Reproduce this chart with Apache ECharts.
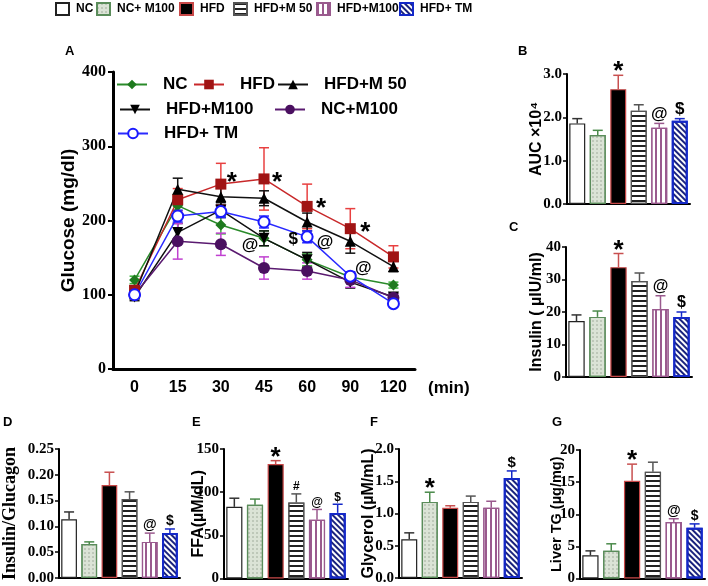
<!DOCTYPE html>
<html>
<head>
<meta charset="utf-8">
<script src="https://cdn.jsdelivr.net/npm/echarts@6/dist/echarts.min.js"></script>
<style>
  html, body { margin: 0; padding: 0; background: #fff; }
  #chart { width: 708px; height: 586px; }
</style>
</head>
<body>
<div id="chart"></div>
<script>
// groups used by the bar panels (B–G)
const groups = ['NC', 'NC+ M100', 'HFD', 'HFD+M 50', 'HFD+M100', 'HFD+ TM'];

// panel A: glucose tolerance test
const timePoints = ['0', '15', '30', '45', '60', '90', '120'];
const lineNames = ['NC', 'HFD', 'HFD+M 50', 'HFD+M100', 'NC+M100', 'HFD+ TM'];
const glucoseNC = [120, 220, 194, 176, 147, 124, 113];
const glucoseHFD = [106, 228, 249, 256, 219, 189, 151];
const glucoseM50 = [101, 242, 232, 230, 198, 172, 138];
const glucoseM100 = [97, 184, 214, 176, 147, 117, 97];
const glucoseNCM100 = [100, 172, 168, 136, 132, 120, 96];
const glucoseTM = [100, 206, 212, 198, 178, 125, 88];
const errNC = [5, 15, 12, 10, 8, 6, 4];
const errHFD = [6, 15, 28, 42, 30, 27, 15];
const errM50 = [5, 15, 12, 10, 12, 16, 7];
const errM100 = [5, 12, 10, 10, 10, 8, 5];
const errNCM100 = [4, 24, 15, 15, 11, 10, 5];
const errTM = [3, 8, 8, 8, 8, 6, 4];
const sigATimes = ['30', '45', '60', '90', '45', '60', '60', '90'];
const sigAValues = [259, 259, 224, 191, 167, 174, 171, 136];
const sigAText = ['*', '*', '*', '*', '@', '$', '@', '@'];

// panel B: AUC x10^4
const aucMean = [1.86, 1.59, 2.65, 2.15, 1.76, 1.92];
const aucErr = [0.11, 0.11, 0.32, 0.14, 0.10, 0.05];
const aucSig = ['', '', '*', '', '@', '$'];
// panel C: insulin
const insulinMean = [17.2, 18.5, 33.8, 29.5, 20.9, 18.5];
const insulinErr = [1.9, 1.8, 4.2, 2.5, 4.1, 1.5];
const insulinSig = ['', '', '*', '', '@', '$'];
// panel D: insulin / glucagon
const ratioMean = [0.114, 0.066, 0.180, 0.153, 0.070, 0.087];
const ratioErr = [0.014, 0.004, 0.025, 0.014, 0.017, 0.008];
const ratioSig = ['', '', '', '', '@', '$'];
// panel E: FFA
const ffaMean = [83, 85.5, 132.5, 88, 68, 76];
const ffaErr = [10, 6.5, 4, 10, 12, 10];
const ffaSig = ['', '', '*', '#', '@', '$'];
// panel F: glycerol
const glycerolMean = [0.60, 1.18, 1.09, 1.18, 1.09, 1.55];
const glycerolErr = [0.10, 0.15, 0.03, 0.09, 0.10, 0.11];
const glycerolSig = ['', '*', '', '', '', '$'];
// panel G: liver TG
const liverTgMean = [3.6, 4.3, 15.2, 16.6, 8.8, 7.9];
const liverTgErr = [0.7, 1.1, 2.6, 1.5, 0.5, 0.6];
const liverTgSig = ['', '', '*', '', '@', '$'];

const SANS = '"Liberation Sans", Arial, sans-serif';
const SERIF = '"Liberation Serif", "Times New Roman", serif';

const barStyles = [
  { color: '#ffffff', borderColor: '#222222', borderWidth: 1.2 },
  { color: '#dbe3d6', borderColor: '#5a8c5a', borderWidth: 1.2,
    decal: { symbol: 'circle', symbolSize: 0.7, dashArrayX: [2, 1.5], dashArrayY: [2, 1.5], color: '#8a9a86' } },
  { color: '#000000', borderColor: '#c84848', borderWidth: 1.2 },
  { color: '#ffffff', borderColor: '#555555', borderWidth: 1.2,
    decal: { symbol: 'rect', symbolSize: 1, dashArrayX: [1, 0], dashArrayY: [1.2, 2.2], color: '#222222' } },
  { color: '#ffffff', borderColor: '#9a5a8e', borderWidth: 1.2,
    decal: { symbol: 'rect', symbolSize: 1, dashArrayX: [1.2, 3], dashArrayY: [1, 0], color: '#9a5a8e' } },
  { color: '#ffffff', borderColor: '#1428c8', borderWidth: 2,
    decal: { symbol: 'rect', symbolSize: 1, dashArrayX: [1, 0], dashArrayY: [1.3, 1.6], rotation: Math.PI / 4, color: '#1a237e' } }
];
const barErrColors = ['#333333', '#4a8a4a', '#c85050', '#555555', '#9a5a8e', '#1428c8'];

const lineColors = ['#1e7a1e', '#a01414', '#000000', '#000000', '#4a1060', '#1a1aff'];
const lineStroke = ['#2a8a2a', '#c8282a', '#111111', '#111111', '#5a1a70', '#2a2aff'];
const lineErrColors = ['#3bb33b', '#e84040', '#111111', '#111111', '#c040d0', '#2a2aff'];
const lineSymbols = ['diamond', 'rect', 'triangle', 'triangle', 'circle', 'emptyCircle'];
const lineSymbolRotate = [0, 0, 0, 180, 0, 0];
const lineSymbolSize = [11, 11, 11, 11, 12, 11];
const glucoseSeries = [glucoseNC, glucoseHFD, glucoseM50, glucoseM100, glucoseNCM100, glucoseTM];
const glucoseErr = [errNC, errHFD, errM50, errM100, errNCM100, errTM];

const chart = echarts.init(document.getElementById('chart'));

const grids = [
  { left: 113, top: 72, width: 302, height: 297 },
  { left: 567, top: 74, width: 123, height: 130 },
  { left: 566, top: 247, width: 126, height: 130 },
  { left: 58, top: 449, width: 122, height: 129 },
  { left: 224, top: 449, width: 124, height: 130 },
  { left: 399, top: 449, width: 123, height: 129 },
  { left: 580, top: 450, width: 125, height: 129 }
];

const barPanels = [
  { mean: aucMean, err: aucErr, sig: aucSig, max: 3, interval: 1, dec: 1, name: 'AUC ×10⁴', gap: 22, nameSize: 16, sigSize: 17 },
  { mean: insulinMean, err: insulinErr, sig: insulinSig, max: 40, interval: 10, dec: 0, name: 'Insulin ( µIU/ml)', gap: 21, nameSize: 16, sigSize: 16 },
  { mean: ratioMean, err: ratioErr, sig: ratioSig, max: 0.25, interval: 0.05, dec: 2, name: 'Insulin/Glucagon', gap: 40, nameSize: 18, sigSize: 14, serifName: true },
  { mean: ffaMean, err: ffaErr, sig: ffaSig, max: 150, interval: 50, dec: 0, name: 'FFA(µM/dL)', gap: 17, nameSize: 16, sigSize: 12 },
  { mean: glycerolMean, err: glycerolErr, sig: glycerolSig, max: 2, interval: 0.5, dec: 1, name: 'Glycerol (µM/mL)', gap: 22, nameSize: 16, sigSize: 15 },
  { mean: liverTgMean, err: liverTgErr, sig: liverTgSig, max: 20, interval: 5, dec: 0, name: 'Liver TG (µg/mg)', gap: 16, nameSize: 14.5, sigSize: 14 }
];

const xAxes = [{
  gridIndex: 0, type: 'category', data: timePoints, boundaryGap: true,
  axisLine: { lineStyle: { color: '#000', width: 3 } },
  axisTick: { show: false },
  axisLabel: { color: '#000', fontFamily: SANS, fontWeight: 'bold', fontSize: 16, margin: 11 },
  name: '(min)', nameLocation: 'end', nameGap: 13,
  nameTextStyle: { color: '#000', fontFamily: SANS, fontWeight: 'bold', fontSize: 17, verticalAlign: 'top', padding: [11, 0, 0, 0] }
}];
const yAxes = [{
  gridIndex: 0, type: 'value', min: 0, max: 400, interval: 100,
  axisLine: { show: true, lineStyle: { color: '#000', width: 3 } },
  axisTick: { show: true, length: 5, lineStyle: { width: 2, color: '#000' } },
  axisLabel: { color: '#000', fontFamily: SERIF, fontWeight: 'bold', fontSize: 16, margin: 7 },
  splitLine: { show: false },
  name: 'Glucose (mg/dl)', nameLocation: 'middle', nameGap: 35, nameMoveOverlap: false,
  nameTextStyle: { color: '#000', fontFamily: SANS, fontWeight: 'bold', fontSize: 19 }
}];

barPanels.forEach((p, k) => {
  const gi = k + 1;
  xAxes.push({
    gridIndex: gi, type: 'category', data: groups,
    axisLine: { lineStyle: { color: '#000', width: 2 } },
    axisTick: { show: false }, axisLabel: { show: false }
  });
  yAxes.push({
    gridIndex: gi, type: 'value', min: 0, max: p.max, interval: p.interval,
    axisLine: { show: true, lineStyle: { color: '#000', width: 2 } },
    axisTick: { show: true, length: 4, lineStyle: { width: 1.5, color: '#000' } },
    axisLabel: { color: '#000', fontFamily: SERIF, fontWeight: 'bold', fontSize: 15, margin: 5,
      formatter: v => v.toFixed(p.dec) },
    splitLine: { show: false },
    name: p.name, nameLocation: 'middle', nameGap: p.gap, nameMoveOverlap: false,
    nameTextStyle: { color: '#000', fontFamily: p.serifName ? SERIF : SANS, fontWeight: 'bold', fontSize: p.nameSize }
  });
});

function sigText(s, x, y, size) {
  const isStar = s === '*';
  return {
    type: 'text',
    style: {
      text: s, x: x, y: isStar ? y + 10 : y - 1,
      align: 'center', verticalAlign: 'bottom',
      fill: '#000', font: 'bold ' + (isStar ? 26 : size) + 'px ' + SANS
    }
  };
}

const series = [];

// panel A error bars first so lines and symbols sit on top
glucoseErr.forEach((errs, g) => {
  series.push({
    type: 'custom', xAxisIndex: 0, yAxisIndex: 0, silent: true, z: 1,
    data: glucoseSeries[g].map((v, i) => [i, v, errs[i]]),
    renderItem: (params, api) => {
      const i = api.value(0), v = api.value(1), e = api.value(2);
      const lo = api.coord([i, v - e]), hi = api.coord([i, v + e]);
      const st = { stroke: lineErrColors[g], lineWidth: 1.5 };
      return { type: 'group', children: [
        { type: 'line', shape: { x1: lo[0], y1: lo[1], x2: hi[0], y2: hi[1] }, style: st },
        { type: 'line', shape: { x1: hi[0] - 5, y1: hi[1], x2: hi[0] + 5, y2: hi[1] }, style: st },
        { type: 'line', shape: { x1: lo[0] - 5, y1: lo[1], x2: lo[0] + 5, y2: lo[1] }, style: st }
      ] };
    }
  });
});

lineNames.forEach((n, g) => {
  series.push({
    name: 'a:' + n, type: 'line', xAxisIndex: 0, yAxisIndex: 0, z: 3,
    data: glucoseSeries[g],
    symbol: lineSymbols[g], symbolSize: lineSymbolSize[g], symbolRotate: lineSymbolRotate[g],
    lineStyle: { color: lineStroke[g], width: 1.5 },
    itemStyle: { color: lineColors[g], borderWidth: g === 5 ? 3 : 0, borderColor: lineColors[g] },
    emphasis: { disabled: true }
  });
});

const sigAShift = [11, 13, 14, 15, -14, -14, 18, 13];
series.push({
  type: 'custom', xAxisIndex: 0, yAxisIndex: 0, silent: true, z: 5,
  data: sigATimes.map((t, i) => [timePoints.indexOf(t), sigAValues[i], i]),
  renderItem: (params, api) => {
    const p = api.coord([api.value(0), api.value(1)]);
    const k = api.value(2);
    const s = sigAText[k];
    const isStar = s === '*';
    return {
      type: 'text',
      style: { text: s, x: p[0] + sigAShift[k], y: isStar ? p[1] + 6 : p[1],
        align: 'center', verticalAlign: 'middle', fill: '#000',
        font: 'bold ' + (isStar ? 26 : 17) + 'px ' + SANS }
    };
  }
});

// bar panels
barPanels.forEach((p, k) => {
  const gi = k + 1;
  groups.forEach((g, i) => {
    series.push({
      name: g, type: 'bar', xAxisIndex: gi, yAxisIndex: gi,
      barWidth: '78%', barGap: '-100%',
      data: p.mean.map((v, j) => (j === i ? v : '-')),
      itemStyle: barStyles[i],
      emphasis: { disabled: true }
    });
  });
  series.push({
    type: 'custom', xAxisIndex: gi, yAxisIndex: gi, silent: true, z: 4,
    data: p.mean.map((v, i) => [i, v, v + p.err[i]]),
    renderItem: (params, api) => {
      const i = api.value(0);
      const base = api.coord([i, api.value(1)]);
      const top = api.coord([i, api.value(2)]);
      const st = { stroke: barErrColors[i], lineWidth: 1.5 };
      const children = [
        { type: 'line', shape: { x1: base[0], y1: base[1], x2: top[0], y2: top[1] }, style: st },
        { type: 'line', shape: { x1: top[0] - 5, y1: top[1], x2: top[0] + 5, y2: top[1] }, style: st }
      ];
      if (p.sig[i]) children.push(sigText(p.sig[i], top[0], top[1], p.sigSize));
      return { type: 'group', children: children };
    }
  });
});

const legendText = { color: '#000', fontFamily: SANS, fontWeight: 'bold', fontSize: 17, padding: [0, 0, 0, 11] };
function lineLegend(name, left, top) {
  return {
    data: ['a:' + name], left: left, top: top, padding: 0,
    itemWidth: 30, itemHeight: 12, selectedMode: false,
    formatter: n => n.replace(/^a:/, ''), textStyle: legendText
  };
}
const topLegendLeft = [55, 96, 179, 233, 316, 399];
function barLegend(name, i) {
  return {
    data: [name], left: topLegendLeft[i], top: 2, padding: 0, icon: 'rect',
    itemWidth: 13, itemHeight: 12, selectedMode: false,
    textStyle: { color: '#000', fontFamily: SANS, fontWeight: 'bold', fontSize: 12, padding: [0, 0, 0, 2] }
  };
}

chart.setOption({
  animation: false,
  backgroundColor: '#fff',
  title: [
    { text: 'A', left: 65, top: 45 },
    { text: 'B', left: 518, top: 45 },
    { text: 'C', left: 509, top: 221 },
    { text: 'D', left: 3, top: 416 },
    { text: 'E', left: 192, top: 416 },
    { text: 'F', left: 370, top: 416 },
    { text: 'G', left: 552, top: 416 }
  ].map(t => Object.assign(t, { padding: 0, textStyle: { fontFamily: SANS, fontWeight: 'bold', fontSize: 13, color: '#000' } })),
  legend: groups.map(barLegend).concat([
    lineLegend('NC', 116, 76),
    lineLegend('HFD', 193, 76),
    lineLegend('HFD+M 50', 277, 76),
    lineLegend('HFD+M100', 119, 101),
    lineLegend('NC+M100', 274, 101),
    lineLegend('HFD+ TM', 117, 125)
  ]),
  grid: grids,
  xAxis: xAxes,
  yAxis: yAxes,
  series: series
});
</script>
</body>
</html>
